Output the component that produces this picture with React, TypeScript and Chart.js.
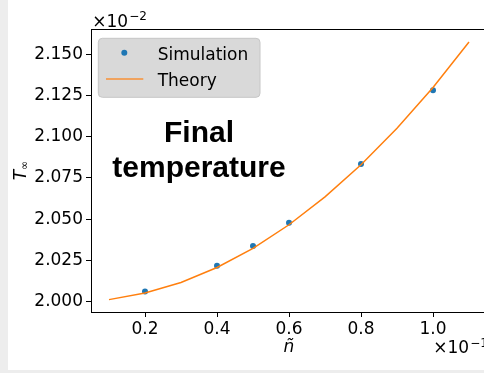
import React, { useEffect, useRef } from "react";
import { Chart, registerables } from "chart.js";

Chart.register(...registerables);

// Values as shown on the axes (x in units of 1e-1, T in units of 1e-2)
const nSimulation = [0.2, 0.4, 0.5, 0.6, 0.8, 1.0];
const tSimulation = [2.0062, 2.0218, 2.0337, 2.0478, 2.0834, 2.1281];

const nTheory = [0.1, 0.2, 0.3, 0.4, 0.5, 0.6, 0.7, 0.8, 0.9, 1.0, 1.1];
const tTheory = [2.0012, 2.0052, 2.0116, 2.0207, 2.0323, 2.0466, 2.0635, 2.083, 2.1051, 2.1298, 2.1574];

const xTicks = [0.2, 0.4, 0.6, 0.8, 1.0];
const yTicks = [2.0, 2.025, 2.05, 2.075, 2.1, 2.125, 2.15];

const seriesLabels = ["Simulation", "Theory"];
const annotationLines = ["Final", "temperature"];
const xTitle = "ñ";
const yTitleMain = "T";
const yTitleSub = "∞";
const xOffsetExponent = "−1";
const yOffsetExponent = "−2";

const BLUE = "#1f77b4";
const ORANGE = "#ff7f0e";
const TICK_FONT = '"DejaVu Sans", sans-serif';

const decorPlugin = {
  id: "decor",
  afterDraw(chart: any) {
    const ctx: CanvasRenderingContext2D = chart.ctx;
    const ca = chart.chartArea;
    ctx.save();

    // top and right spines
    ctx.strokeStyle = "#000";
    ctx.lineWidth = 1;
    ctx.beginPath();
    const ty = Math.round(ca.top) + 0.5;
    ctx.moveTo(ca.left, ty);
    ctx.lineTo(ca.right, ty);
    const rx = Math.round(ca.right) - 0.5;
    ctx.moveTo(rx, ca.top);
    ctx.lineTo(rx, ca.bottom);
    ctx.stroke();

    // annotation text
    ctx.fillStyle = "#000";
    ctx.font = 'bold 30px "Liberation Sans", Arial, sans-serif';
    ctx.textAlign = "center";
    ctx.textBaseline = "alphabetic";
    ctx.fillText(annotationLines[0], ca.left + 108, ca.top + 112.5);
    ctx.fillText(annotationLines[1], ca.left + 108, ca.top + 148);

    // legend
    const lx = ca.left + 7.3;
    const ly = ca.top + 9.3;
    const lw = 161.7;
    const lh = 59;
    const r = 4;
    ctx.beginPath();
    ctx.moveTo(lx + r, ly);
    ctx.lineTo(lx + lw - r, ly);
    ctx.arcTo(lx + lw, ly, lx + lw, ly + r, r);
    ctx.lineTo(lx + lw, ly + lh - r);
    ctx.arcTo(lx + lw, ly + lh, lx + lw - r, ly + lh, r);
    ctx.lineTo(lx + r, ly + lh);
    ctx.arcTo(lx, ly + lh, lx, ly + lh - r, r);
    ctx.lineTo(lx, ly + r);
    ctx.arcTo(lx, ly, lx + r, ly, r);
    ctx.closePath();
    ctx.fillStyle = "#d9d9d9";
    ctx.fill();
    ctx.strokeStyle = "#c6c6c6";
    ctx.lineWidth = 1;
    ctx.stroke();

    const ds = chart.data.datasets;
    // Simulation marker
    ctx.fillStyle = BLUE;
    ctx.beginPath();
    ctx.arc(ca.left + 33.3, ca.top + 23.7, 3, 0, Math.PI * 2);
    ctx.fill();
    // Theory line
    ctx.strokeStyle = "rgba(255,127,14,0.8)";
    ctx.lineWidth = 1.5;
    ctx.beginPath();
    ctx.moveTo(ca.left + 15, ca.top + 50);
    ctx.lineTo(ca.left + 52.3, ca.top + 50);
    ctx.stroke();

    ctx.fillStyle = "#000";
    ctx.font = "17px " + TICK_FONT;
    ctx.textAlign = "left";
    ctx.fillText(ds[0].label, ca.left + 66.7, ca.top + 30.5);
    ctx.fillText(ds[1].label, ca.left + 66.7, ca.top + 56.5);

    // offset texts
    ctx.font = "17px " + TICK_FONT;
    const base = "×10";
    const tx = ca.left + 1.3;
    ctx.fillText(base, tx, 26.7);
    let w = ctx.measureText(base).width;
    ctx.font = "12px " + TICK_FONT;
    ctx.fillText(yOffsetExponent, tx + w + 1, 20);

    ctx.font = "17px " + TICK_FONT;
    const bx = ca.right - 53.7;
    const by = ca.bottom + 41.3;
    ctx.fillText(base, bx, by);
    w = ctx.measureText(base).width;
    ctx.font = "12px " + TICK_FONT;
    ctx.fillText(xOffsetExponent, bx + w + 1, by - 6.8);

    // x title
    ctx.font = "italic 17px " + TICK_FONT;
    ctx.textAlign = "center";
    ctx.fillText(xTitle, (ca.left + ca.right) / 2, ca.bottom + 39.7);

    // y title (rotated)
    ctx.translate(17.7, ca.top + 151.3);
    ctx.rotate(-Math.PI / 2);
    ctx.textAlign = "left";
    ctx.font = "italic 17px " + TICK_FONT;
    ctx.fillText(yTitleMain, 0, 0);
    const tw = ctx.measureText(yTitleMain).width;
    ctx.font = "11px " + TICK_FONT;
    ctx.fillText(yTitleSub, tw, 2.6);

    ctx.restore();
  },
};

export default function App() {
  const canvasRef = useRef<HTMLCanvasElement | null>(null);

  useEffect(() => {
    document.body.style.margin = "0";
    document.body.style.background = "#ededed";
    const canvas = canvasRef.current;
    if (!canvas) return;

    const chart = new Chart(canvas, {
      type: "scatter",
      data: {
        datasets: [
          {
            label: seriesLabels[0],
            data: nSimulation.map((x, i) => ({ x, y: tSimulation[i] })),
            backgroundColor: BLUE,
            borderColor: BLUE,
            pointRadius: 3,
            pointBorderWidth: 0,
            showLine: false,
            order: 2,
          },
          {
            label: seriesLabels[1],
            data: nTheory.map((x, i) => ({ x, y: tTheory[i] })),
            borderColor: ORANGE,
            backgroundColor: ORANGE,
            borderWidth: 1.5,
            pointRadius: 0,
            showLine: true,
            tension: 0,
            order: 1,
          },
        ],
      },
      options: {
        animation: false,
        responsive: false,
        maintainAspectRatio: false,
        layout: { padding: { left: 0, top: 29, right: 21, bottom: 0 } },
        plugins: {
          legend: { display: false },
          tooltip: { enabled: false },
        },
        scales: {
          x: {
            type: "linear",
            min: 0.05,
            max: 1.15,
            afterBuildTicks: (scale: any) => {
              scale.ticks = xTicks.map((v) => ({ value: v }));
            },
            afterFit: (scale: any) => {
              scale.height = 58;
            },
            ticks: {
              callback: (v: any) => Number(v).toFixed(1),
              color: "#000",
              font: { family: TICK_FONT, size: 17 },
              padding: 2,
              maxRotation: 0,
              autoSkip: false,
            },
            grid: {
              drawOnChartArea: false,
              drawTicks: true,
              tickLength: 5,
              tickColor: "#000",
              tickWidth: 1,
            },
            border: { display: true, color: "#000", width: 1 },
          },
          y: {
            type: "linear",
            min: 1.9937,
            max: 2.1653,
            afterBuildTicks: (scale: any) => {
              scale.ticks = yTicks.map((v) => ({ value: v }));
            },
            afterFit: (scale: any) => {
              scale.width = 83;
            },
            ticks: {
              callback: (v: any) => Number(v).toFixed(3),
              color: "#000",
              font: { family: TICK_FONT, size: 17 },
              padding: 3,
              autoSkip: false,
            },
            grid: {
              drawOnChartArea: false,
              drawTicks: true,
              tickLength: 5,
              tickColor: "#000",
              tickWidth: 1,
            },
            border: { display: true, color: "#000", width: 1 },
          },
        },
      },
      plugins: [decorPlugin],
    } as any);

    return () => chart.destroy();
  }, []);

  return (
    <div
      style={{
        position: "fixed",
        left: 0,
        top: 0,
        width: "100vw",
        height: "100vh",
        background: "#ededed",
      }}
    >
      <div
        style={{
          position: "absolute",
          left: 8,
          top: 0,
          width: 476,
          height: 370,
          background: "#ffffff",
          overflow: "hidden",
        }}
      >
        <canvas
          ref={canvasRef}
          width={500}
          height={370}
          style={{ display: "block", width: 500, height: 370 }}
        />
      </div>
    </div>
  );
}
